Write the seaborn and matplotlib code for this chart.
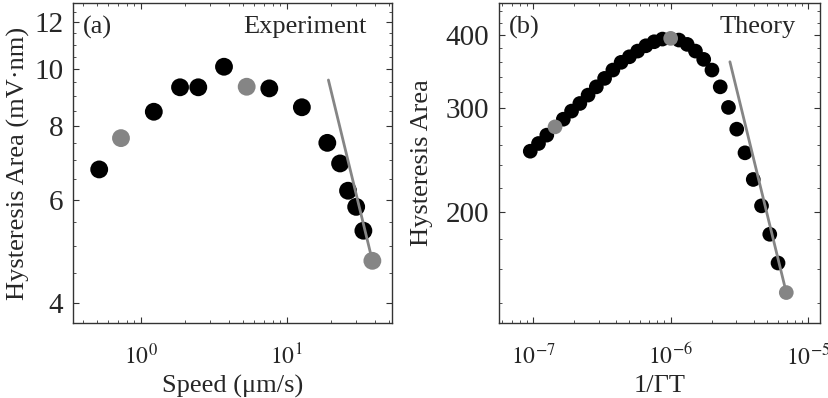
import numpy as np
import pandas as pd
import matplotlib
matplotlib.use('Agg')
import matplotlib.pyplot as plt
import seaborn as sns
from matplotlib.ticker import FixedLocator, NullFormatter, LogLocator

# (a) experiment
speed = [0.52, 0.733, 1.23, 1.86, 2.48, 3.72, 5.32, 7.60, 12.7, 18.97, 23.2, 26.3, 29.9, 33.5, 38.6]
area_exp = [6.75, 7.63, 8.46, 9.31, 9.31, 10.09, 9.33, 9.27, 8.61, 7.49, 6.91, 6.21, 5.83, 5.31, 4.72]
kind_exp = ['b', 'g', 'b', 'b', 'b', 'b', 'g', 'b', 'b', 'b', 'b', 'b', 'b', 'b', 'g']
fit_exp_x = [19.3, 38.6]
fit_exp_y = [9.58, 4.72]

# (b) theory
inv_gt = [9.55e-8, 1.096e-7, 1.259e-7, 1.445e-7, 1.660e-7, 1.905e-7, 2.188e-7, 2.512e-7,
          2.884e-7, 3.311e-7, 3.802e-7, 4.365e-7, 5.012e-7, 5.754e-7, 6.607e-7, 7.586e-7,
          8.710e-7, 1.000e-6, 1.148e-6, 1.318e-6, 1.514e-6, 1.738e-6, 1.995e-6, 2.291e-6,
          2.630e-6, 3.020e-6, 3.467e-6, 3.981e-6, 4.571e-6, 5.248e-6, 6.026e-6, 6.918e-6]
area_th = [253.7, 261.5, 270.2, 279.1, 287.6, 296.9, 305.9, 316.1, 326.5, 337.5, 348.7, 359.4,
           367.3, 375.6, 383.5, 389.6, 393.7, 394.8, 392.2, 385.6, 375.6, 363.6, 348.7, 326.5,
           301.2, 276.6, 252.1, 227.1, 204.8, 183.2, 163.7, 145.8]
kind_th = ['b'] * 32
kind_th[3] = 'g'
kind_th[17] = 'g'
kind_th[31] = 'g'
fit_th_x = [2.694e-6, 6.918e-6]
fit_th_y = [360.2, 145.8]

sns.set_style('ticks')
plt.rcParams['font.family'] = ['Liberation Serif', 'DejaVu Serif']
plt.rcParams['mathtext.fontset'] = 'stix'

pal = {'b': 'black', 'g': '#858585'}
gray = '#858585'

fig = plt.figure(figsize=(8.29, 3.98), dpi=100)
ax1 = fig.add_axes([73/829, 1-323/398, (392-73)/829, 320/398])
ax2 = fig.add_axes([499/829, 1-323/398, (820-499)/829, 320/398])

df1 = pd.DataFrame({'x': speed, 'y': area_exp, 'k': kind_exp})
df2 = pd.DataFrame({'x': inv_gt, 'y': area_th, 'k': kind_th})

for ax, df, s in [(ax1, df1, 165), (ax2, df2, 112)]:
    ax.set_xscale('log')
    ax.set_yscale('log')
    sns.scatterplot(data=df[df.k == 'b'], x='x', y='y', hue='k', palette=pal, s=s,
                    linewidth=0, legend=False, ax=ax, zorder=2)

ax1.plot(fit_exp_x, fit_exp_y, color=gray, lw=2, zorder=3)
ax2.plot(fit_th_x, fit_th_y, color=gray, lw=2, zorder=3)
for ax, df, s in [(ax1, df1, 165), (ax2, df2, 112)]:
    sns.scatterplot(data=df[df.k == 'g'], x='x', y='y', hue='k', palette=pal, s=s,
                    linewidth=0, legend=False, ax=ax, zorder=4)

ax1.set_xlim(0.344, 52.6)
ax1.set_ylim(3.70, 12.95)
ax2.set_xlim(5.66e-8, 1.216e-5)
ax2.set_ylim(129.4, 453.5)

ax1.yaxis.set_major_locator(FixedLocator([4, 6, 8, 10, 12]))
ax1.yaxis.set_minor_locator(FixedLocator(np.arange(4.0, 13.0, 0.5)))
ax1.set_yticklabels(['4', '6', '8', '10', '12'])
ax2.yaxis.set_major_locator(FixedLocator([200, 300, 400]))
ax2.yaxis.set_minor_locator(FixedLocator(np.arange(140, 460, 20)))
ax2.set_yticklabels(['200', '300', '400'])

ax1.xaxis.set_major_locator(FixedLocator([1, 10]))
ax1.set_xticklabels([r'$10^{0}$', r'$10^{1}$'])
ax2.xaxis.set_major_locator(FixedLocator([1e-7, 1e-6, 1e-5]))
ax2.set_xticklabels([r'$10^{-7}$', r'$10^{-6}$', r'$10^{-5}$'])

for ax in (ax1, ax2):
    ax.xaxis.set_minor_locator(LogLocator(base=10, subs=np.arange(2, 10), numticks=20))
    ax.xaxis.set_minor_formatter(NullFormatter())
    ax.yaxis.set_minor_formatter(NullFormatter())
    ax.tick_params(which='both', direction='in', top=True, right=True, color='#333333')
    ax.tick_params(which='major', length=4, width=0.8)
    ax.tick_params(which='minor', length=2.5, width=0.6)
    ax.tick_params(axis='y', which='major', labelsize=21, pad=7)
    ax.tick_params(axis='x', which='major', labelsize=17, pad=15)
    for sp in ax.spines.values():
        sp.set_color('#333333')
        sp.set_linewidth(1)

ax1.set_xlabel('Speed (\u03bcm/s)', fontsize=19, labelpad=4)
ax1.set_ylabel('Hysteresis Area (mV\u00b7nm)', fontsize=19, labelpad=3)
ax2.set_xlabel('1/\u0393T', fontsize=19, labelpad=4)
ax2.set_ylabel('Hysteresis Area', fontsize=19, labelpad=9)

ax1.text(0.03, 0.96, '(a)', transform=ax1.transAxes, fontsize=19, va='top', ha='left')
ax1.text(0.92, 0.96, 'Experiment', transform=ax1.transAxes, fontsize=19, va='top', ha='right')
ax2.text(0.03, 0.96, '(b)', transform=ax2.transAxes, fontsize=19, va='top', ha='left')
ax2.text(0.925, 0.96, 'Theory', transform=ax2.transAxes, fontsize=19, va='top', ha='right')

fig.savefig('out.png', dpi=100)
